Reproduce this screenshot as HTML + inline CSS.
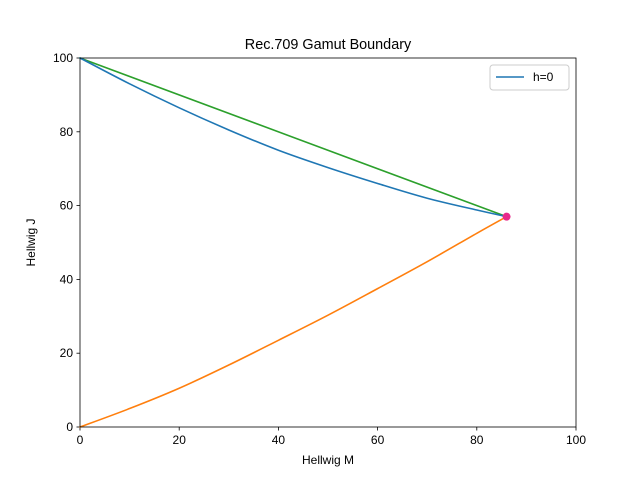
<!DOCTYPE html>
<html><head><meta charset="utf-8"><style>
body{margin:0;background:#fff}
svg{display:block;font-family:"Liberation Sans","DejaVu Sans",sans-serif}
</style></head><body>
<svg id="chart" width="640" height="480"></svg>
<script>
const xTicks=[0,20,40,60,80,100];
const yTicks=[0,20,40,60,80,100];
const upperM=[0,10,20,30,40,50,60,70,80,86];
const upperJ=[100,93,86.5,80.5,75,70.3,66,62,58.8,57];
const lowerM=[0,10,20,30,40,50,60,70,80,86];
const lowerJ=[0,5,10.5,16.8,23.5,30.3,37.5,44.8,52.5,57];
const straightM=[0,86];
const straightJ=[100,57];
const cusp=[86,57];
const X0=80,X1=576,Y0=427,Y1=58;
const sx=v=>X0+(v-0)/100*(X1-X0);
const sy=v=>Y0-(v-0)/100*(Y0-Y1);
const svg=document.getElementById('chart');
const NS='http://www.w3.org/2000/svg';
function mk(tag,attrs,parent){const e=document.createElementNS(NS,tag);for(const k in attrs)e.setAttribute(k,attrs[k]);(parent||svg).appendChild(e);return e;}
function txt(s,attrs){const t=mk('text',attrs);t.textContent=s;return t;}
xTicks.forEach(v=>{
  const l=mk('line',{x1:sx(v),x2:sx(v),y1:Y0,y2:Y0+3.5,stroke:'#000','stroke-width':0.8});
  
  
  const t=txt(v,{x:sx(v),y:Y0+17,'font-size':12,'text-anchor':'middle'});
  
  
});
yTicks.forEach(v=>{
  const l=mk('line',{x1:X0-3.5,x2:X0,y1:sy(v),y2:sy(v),stroke:'#000','stroke-width':0.8});
  
  
  const t=txt(v,{x:X0-7,y:sy(v)+4,'font-size':12,'text-anchor':'end'});
  
  
});
function pathD(ms,js){
  const p=ms.map((m,i)=>[sx(m),sy(js[i])]);
  let d='M'+p[0][0]+','+p[0][1];
  for(let i=0;i<p.length-1;i++){
    const p0=p[i-1]||p[i],p1=p[i],p2=p[i+1],p3=p[i+2]||p2;
    const c1=[p1[0]+(p2[0]-p0[0])/6,p1[1]+(p2[1]-p0[1])/6];
    const c2=[p2[0]-(p3[0]-p1[0])/6,p2[1]-(p3[1]-p1[1])/6];
    d+=' C'+c1+' '+c2+' '+p2;
  }
  return d;
}
function line(ms,js,color,name){
  const p=mk('path',{d:pathD(ms,js),fill:'none',stroke:color,'stroke-width':1.6,'stroke-linejoin':'round','stroke-linecap':'round'});
  
  
}
line(straightM,straightJ,'#2ca02c','upper-straight-line');
line(upperM,upperJ,'#1f77b4','upper-boundary-h0');
line(lowerM,lowerJ,'#ff7f0e','lower-boundary');
const c=mk('circle',{cx:sx(cusp[0]),cy:sy(cusp[1]),r:4,fill:'#e7298a'});


const f=mk('rect',{x:X0,y:Y1,width:X1-X0,height:Y0-Y1,fill:'none',stroke:'#000','stroke-width':0.8});


const title=txt('Rec.709 Gamut Boundary',{x:(X0+X1)/2,y:49,'font-size':14.4,'text-anchor':'middle'});


const xl=txt('Hellwig M',{x:(X0+X1)/2,y:464,'font-size':12,'text-anchor':'middle'});


const yl=txt('Hellwig J',{x:0,y:0,'font-size':12,'text-anchor':'middle',transform:'translate(35,'+((Y0+Y1)/2)+') rotate(-90)'});


const lg=mk('g',{});


mk('rect',{x:490,y:65,width:79,height:25,rx:3,fill:'#fff',stroke:'#ccc','stroke-width':1},lg);
mk('line',{x1:496,x2:524,y1:77,y2:77,stroke:'#1f77b4','stroke-width':1.5},lg);
const lt=mk('text',{x:533,y:81,'font-size':12},lg);lt.textContent='h=0';


</script>
</body></html>
